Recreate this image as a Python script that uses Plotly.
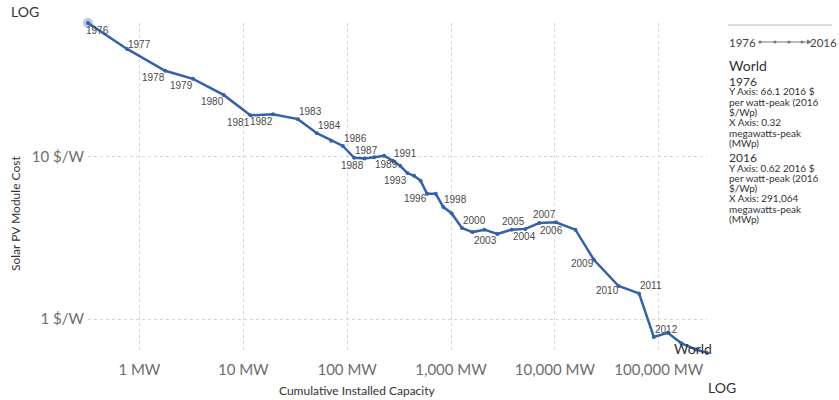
import math
import plotly.graph_objects as go

# ---------------- data ----------------
years = list(range(1976, 2017))
capacity_mw = [0.32, 0.76, 1.77, 3.28, 6.47, 11.7, 19.3, 33.6, 51.1, 70.2,
               90.9, 116.8, 146.7, 181.8, 226.9, 275.0, 323.3, 380.0, 440.9, 509.0,
               587.6, 712.8, 843.3, 1011, 1273, 1606, 2099, 2794, 3834, 5194,
               7063, 10222, 15745, 23714, 40973, 64520, 89520, 122040, 165300, 226900,
               291064]
cost_usd_per_w = [66.1, 45.8, 33.6, 30.0, 23.9, 17.9, 18.2, 16.96, 13.9, 12.5,
                  11.6, 9.82, 9.72, 9.89, 10.1, 9.41, 8.77, 7.91, 7.61, 7.10,
                  5.90, 5.90, 4.89, 4.48, 3.64, 3.43, 3.55, 3.34, 3.55, 3.59,
                  3.90, 3.94, 3.55, 2.32, 1.60, 1.44, 0.778, 0.825, 0.711, 0.652,
                  0.62]
entity = "World"
x_tick_vals = [1, 10, 100, 1000, 10000, 100000]
x_tick_text = ["1 MW", "10 MW", "100 MW", "1,000 MW", "10,000 MW", "100,000 MW"]
y_tick_vals = [1, 10]
y_tick_text = ["1 $/W", "10 $/W"]
# year label placement (t/b = above/below, l/r = text on left/right of point)
labelled_years = {
    1976: "br", 1977: "tr", 1978: "bl", 1979: "bl", 1980: "bl", 1981: "bl",
    1982: "bl", 1983: "tr", 1984: "tr", 1986: "tr", 1987: "tr", 1988: "bl",
    1989: "br", 1991: "tr", 1993: "bl", 1996: "bl", 1998: "tr", 2000: "tr",
    2003: "bl", 2004: "br", 2005: "tl", 2006: "br", 2007: "tl", 2009: "bl",
    2010: "bl", 2011: "tr", 2012: "tr",
}
label_dy_override = {1977: 4, 2009: -3.5, 2010: -4.5, 1996: -5}

# ---------------- style ----------------
LINE_COLOR = "#3461AC"
W, H = 839, 400
PL, PR, PT, PB = 88, 707, 23, 353  # plot box in pixels


def xp(px):
    return (px - PL) / (PR - PL)


def yp(py):
    return (PB - py) / (PB - PT)


fig = go.Figure()
# highlight halo on the first point
fig.add_trace(go.Scatter(
    x=[capacity_mw[0]], y=[cost_usd_per_w[0]], mode="markers",
    marker=dict(size=10, color="rgba(52,97,172,0.35)"),
    hoverinfo="skip", cliponaxis=False, showlegend=False))
fig.add_trace(go.Scatter(
    x=capacity_mw, y=cost_usd_per_w, mode="lines+markers",
    line=dict(color=LINE_COLOR, width=2.5),
    marker=dict(size=4, color=LINE_COLOR),
    cliponaxis=False, showlegend=False, name=entity))

fig.update_xaxes(
    type="log",
    range=[math.log10(capacity_mw[0]), math.log10(capacity_mw[-1])],
    tickvals=x_tick_vals, ticktext=x_tick_text,
    showgrid=True, gridcolor="#d6d6d6", griddash="3px,3px", gridwidth=1,
    zeroline=False, showline=False, ticks="", ticklabelstandoff=6,
    tickfont=dict(family="Lato, sans-serif", size=15, color="#6e6e6e"),
)
fig.update_yaxes(
    type="log",
    range=[math.log10(cost_usd_per_w[-1]), math.log10(cost_usd_per_w[0])],
    tickvals=y_tick_vals, ticktext=y_tick_text,
    showgrid=True, gridcolor="#d6d6d6", griddash="3px,3px", gridwidth=1,
    zeroline=False, showline=False, ticks="", ticklabelstandoff=3,
    tickfont=dict(family="Lato, sans-serif", size=15, color="#6e6e6e"),
)

ann = []

# year labels next to points
for yr, cap, c in zip(years, capacity_mw, cost_usd_per_w):
    if yr not in labelled_years:
        continue
    pos = labelled_years[yr]
    dy = 7.5 if pos[0] == "t" else -7
    dy = label_dy_override.get(yr, dy)
    if pos[1] == "r":
        xanchor, dx = "left", 0
    else:
        xanchor, dx = "right", 1
    if yr == 1976:
        dx = -3
    ann.append(dict(text=str(yr), x=math.log10(cap), y=math.log10(c), xref="x", yref="y",
                    xanchor=xanchor, yanchor="middle", xshift=dx, yshift=dy,
                    showarrow=False, borderpad=0,
                    font=dict(family="Liberation Sans, Arial, sans-serif", size=10,
                              color="#4a4a4a")))


def txt(s, px, py, size, color="#333", xanchor="left", family="Lato, sans-serif", angle=0):
    ann.append(dict(text=s, x=xp(px), y=yp(py), xref="paper", yref="paper",
                    xanchor=xanchor, yanchor="middle", showarrow=False, textangle=angle,
                    borderpad=0, font=dict(family=family, size=size, color=color)))


# axis titles and scale markers
txt("Cumulative Installed Capacity", 357, 390, 12, "#333", xanchor="center")
txt("Solar PV Module Cost", 15, 214, 12, "#333", xanchor="center", angle=-90)
txt("LOG", 10, 12, 14, "#333")
txt("LOG", 707, 388, 14, "#333")

# end-of-line entity label
ann.append(dict(text=entity, x=math.log10(capacity_mw[-1]), y=math.log10(cost_usd_per_w[-1]),
                xref="x", yref="y", xanchor="right", yanchor="middle", xshift=6, yshift=5,
                showarrow=False, borderpad=0,
                font=dict(family="Lato, sans-serif", size=14, color="#333")))

# right-hand legend / summary
txt(str(years[0]), 728, 42, 11.5, "#444")
txt(str(years[-1]), 838, 42, 11.5, "#444", xanchor="right")
txt(entity, 728, 65, 14, "#333")


def fmt_num(v):
    return f"{v:,.0f}" if v >= 1000 else f"{v:g}"


blocks = [(years[0], cost_usd_per_w[0], capacity_mw[0], 81.5),
          (years[-1], cost_usd_per_w[-1], capacity_mw[-1], 157.5)]
for yr, c, cap, y0 in blocks:
    txt(str(yr), 728, y0, 12, "#333")
    lines = [f"Y Axis: {fmt_num(c)} 2016 $", "per watt-peak (2016", "$/Wp)",
             f"X Axis: {fmt_num(cap)}", "megawatts-peak", "(MWp)"]
    for i, ln in enumerate(lines):
        txt(ln, 728, y0 + 10 + i * 10.3, 10, "#333")

shapes = [
    dict(type="line", xref="paper", yref="paper", x0=xp(728), x1=xp(832), y0=yp(25), y1=yp(25),
         line=dict(color="#dddddd", width=2)),
    dict(type="line", xref="paper", yref="paper", x0=xp(759), x1=xp(809), y0=yp(42), y1=yp(42),
         line=dict(color="#777", width=1)),
]
for dx in [760, 775, 789, 802]:
    shapes.append(dict(type="circle", xref="paper", yref="paper",
                       xsizemode="pixel", ysizemode="pixel",
                       xanchor=xp(dx), yanchor=yp(42), x0=-1.6, x1=1.6, y0=-1.6, y1=1.6,
                       fillcolor="#777", line=dict(width=0)))
shapes.append(dict(type="path", xref="paper", yref="paper",
                   path=f"M {xp(807)} {yp(39.5)} L {xp(812)} {yp(42)} L {xp(807)} {yp(44.5)} Z",
                   fillcolor="#777", line=dict(width=0)))

fig.update_layout(
    width=W, height=H,
    margin=dict(l=PL, r=W - PR, t=PT, b=H - PB),
    plot_bgcolor="white", paper_bgcolor="white",
    annotations=ann, shapes=shapes,
    font=dict(family="Lato, sans-serif"),
)

fig.write_html("out.html", config={"displayModeBar": False},
               post_script="document.body.style.margin='0';document.body.style.overflow='hidden';")
